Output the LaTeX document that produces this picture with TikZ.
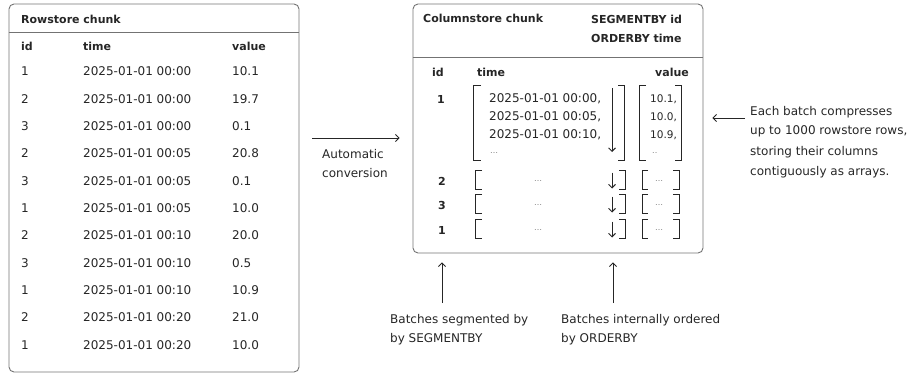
\documentclass[tikz,border=0pt]{standalone}
\usepackage{fontspec}
\setmainfont{DejaVu Sans}
\definecolor{InkGray}{RGB}{38, 38, 38}
\definecolor{FrameGray}{RGB}{115, 115, 115}
\definecolor{DotGray}{RGB}{130, 130, 130}
\usetikzlibrary{arrows.meta, positioning, calc}

\begin{document}
\begin{tikzpicture}[x=1pt, y=-1pt,
        chunk/.style={rectangle, draw=FrameGray, line width=0.9pt, rounded corners=5pt, inner sep=0pt},
        cell/.style={anchor=base west, inner sep=0pt, text=InkGray, font=\fontsize{12}{14}\selectfont},
        head/.style={anchor=base west, inner sep=0pt, text=InkGray, font=\bfseries\fontsize{11}{14}\selectfont},
        note/.style={anchor=base west, inner sep=0pt, align=left, text=InkGray, font=\fontsize{12}{19}\selectfont},
        dots/.style={inner sep=0pt, text=DotGray, font=\fontsize{8}{8}\selectfont},
        bracket/.style={draw=InkGray, line width=0.9pt},
        arrow/.style={-{Straight Barb[length=3.5pt, width=7pt]}, line width=0.9pt, InkGray}
    ]
    \useasboundingbox (0,0) rectangle (909,377);

    % Rowstore chunk
    \node[chunk, minimum width=290pt, minimum height=368pt] (rowbox) at (154,188) {};
    \draw[draw=FrameGray, line width=0.9pt] (rowbox.west |- 0,32) -- (rowbox.east |- 0,32);
    \node[head] (rowtitle) at (21,23.3) {Rowstore chunk};
    \node[head] (rowid) at (21,51) {id};
    \node[head] (rowtime) at (83,51) {time};
    \node[head] (rowval) at (232,51) {value};
    \foreach \k/\i/\t/\v in {0/1/00:00/10.1, 1/2/00:00/19.7, 2/3/00:00/0.1, 3/2/00:05/20.8,
            4/3/00:05/0.1, 5/1/00:05/10.0, 6/2/00:10/20.0, 7/3/00:10/0.5,
            8/1/00:10/10.9, 9/2/00:20/21.0, 10/1/00:20/10.0} {
        \node[cell] (rid\k) at (21,76+27.3*\k) {\i};
        \node[cell] (rtime\k) at (83,76+27.3*\k) {2025-01-01 \t};
        \node[cell] (rval\k) at (232,76+27.3*\k) {\v};
    }

    % Columnstore chunk
    \node[chunk, minimum width=290pt, minimum height=249pt] (colbox) at (558,128.5) {};
    \draw[draw=FrameGray, line width=0.9pt] (colbox.west |- 0,57) -- (colbox.east |- 0,57);
    \node[head] (coltitle) at (423,22.3) {Columnstore chunk};
    \node[head, align=left, font=\bfseries\fontsize{11}{19}\selectfont] (colkeys) at (591,42.4) {SEGMENTBY id\\ORDERBY time};
    \node[head] (colid) at (432,76.3) {id};
    \node[head] (coltime) at (477,76.3) {time};
    \node[head] (colval) at (655,76.3) {value};

    % Automatic conversion
    \coordinate (convy) at (356,138);
    \draw[arrow, shorten <=13pt, shorten >=13pt] (rowbox.east |- convy) -- (colbox.west |- convy);
    \node[note] (convnote) at (322,177.4) {Automatic\\conversion};

    % first batch
    \node[head, anchor=base] (seg1) at (441,103.3) {1};
    \foreach \j/\m/\v in {0/00/10.1, 1/05/10.0, 2/10/10.9} {
        \node[cell] (btime\j) at (489,102.3+18*\j) {2025-01-01 00:\m,};
        \node[cell, font=\fontsize{10.5}{12}\selectfont] (bval\j) at (650,102.3+18*\j) {\v,};
    }
    \node[dots, anchor=west] (btimedots) at (490,153) {…};
    \node[dots, anchor=west] (bvaldots) at (652,153) {..};
    \draw[bracket] (481,85) -| (473,160) -- (481,160);
    \draw[bracket] (618,85) -| (624,160) -- (618,160);
    \draw[bracket] (646,85) -| (639,160) -- (646,160);
    \draw[bracket] (675,85) -| (681,160) -- (675,160);
    \draw[arrow] (612,88) -- (612,152);

    % other batches
    \foreach \k/\i/\c in {2/2/181.5, 3/3/205.5, 4/1/230.5} {
        \node[head, anchor=base] (seg\k) at (442,\c+4.3) {\i};
        \node[dots] (stime\k) at (538,\c) {…};
        \node[dots] (sval\k) at (659,\c) {…};
        \draw[bracket] (482,\c-11) -| (475,\c+8) -- (482,\c+8);
        \draw[bracket] (619,\c-11) -| (625,\c+8) -- (619,\c+8);
        \draw[bracket] (648,\c-11) -| (642,\c+8) -- (648,\c+8);
        \draw[bracket] (673,\c-11) -| (679,\c+8) -- (673,\c+8);
        \draw[arrow] (612,\c-9) -- (612,\c+7);
    }

    % Batch note
    \node[note, font=\fontsize{12}{20}\selectfont] (batchnote) at (750,175) {Each batch compresses\\up to 1000 rowstore rows,\\storing their columns\\contiguously as arrays.};
    \coordinate (notey) at (728,118);
    \draw[arrow, shorten <=5pt, shorten >=9pt] (batchnote.west |- notey) -- (colbox.east |- notey);

    % SEGMENTBY and ORDERBY notes
    \coordinate (segtail) at (442,303);
    \coordinate (ordtail) at (613,303);
    \draw[arrow, shorten >=9pt] (segtail) -- (segtail |- colbox.south);
    \draw[arrow, shorten >=9pt] (ordtail) -- (ordtail |- colbox.south);
    \node[note] (segnote) at (390,342.4) {Batches segmented by\\by SEGMENTBY};
    \node[note] (ordnote) at (561,342.4) {Batches internally ordered\\by ORDERBY};
\end{tikzpicture}
\end{document}
